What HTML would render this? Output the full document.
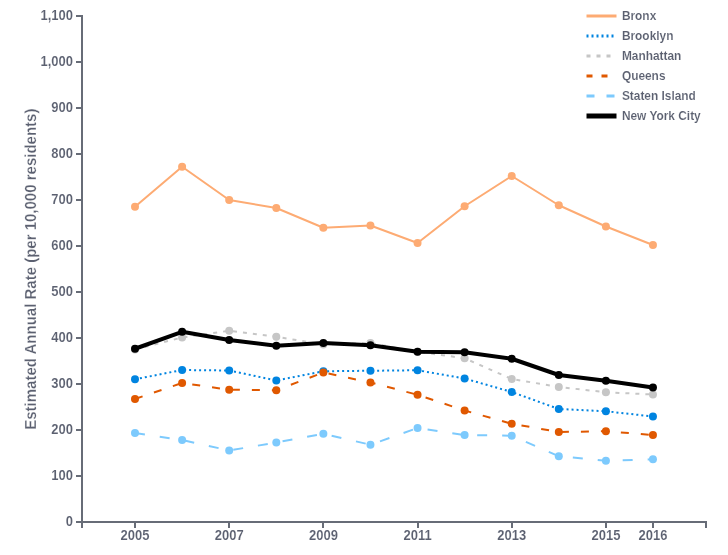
<!DOCTYPE html>
<html><head><meta charset="utf-8"><title>Estimated Annual Rate</title>
<style>html,body{margin:0;padding:0;background:#fff}svg{display:block}text{font-family:"Liberation Sans",Arial,sans-serif;font-weight:bold;fill:#5b6070;stroke:#fff;stroke-width:0.12px;paint-order:fill stroke}</style></head><body>
<svg width="728" height="555" viewBox="0 0 728 555">
<rect width="728" height="555" fill="#fff"/>
<g stroke="#676c77" stroke-width="2" fill="none" shape-rendering="crispEdges">
<path d="M76,16H82V522"/>
<path d="M82,528V522H706V528"/>
<path d="M76,522 H82"/>
<path d="M76,476 H82"/>
<path d="M76,430 H82"/>
<path d="M76,384 H82"/>
<path d="M76,338 H82"/>
<path d="M76,292 H82"/>
<path d="M76,246 H82"/>
<path d="M76,200 H82"/>
<path d="M76,154 H82"/>
<path d="M76,108 H82"/>
<path d="M76,62 H82"/>
<path d="M135,522 V528"/>
<path d="M229,522 V528"/>
<path d="M323,522 V528"/>
<path d="M418,522 V528"/>
<path d="M512,522 V528"/>
<path d="M606,522 V528"/>
<path d="M653,522 V528"/>
</g>
<g font-size="14" text-anchor="end">
<text transform="translate(73,525.8) scale(0.9286,1)">0</text>
<text transform="translate(73,479.8) scale(0.9286,1)">100</text>
<text transform="translate(73,433.8) scale(0.9286,1)">200</text>
<text transform="translate(73,387.8) scale(0.9286,1)">300</text>
<text transform="translate(73,341.8) scale(0.9286,1)">400</text>
<text transform="translate(73,295.8) scale(0.9286,1)">500</text>
<text transform="translate(73,249.8) scale(0.9286,1)">600</text>
<text transform="translate(73,203.8) scale(0.9286,1)">700</text>
<text transform="translate(73,157.8) scale(0.9286,1)">800</text>
<text transform="translate(73,111.8) scale(0.9286,1)">900</text>
<text transform="translate(73,65.8) scale(0.9286,1)">1,000</text>
<text transform="translate(73,19.8) scale(0.9286,1)">1,100</text>
</g>
<g font-size="14" text-anchor="middle">
<text transform="translate(135.0,540) scale(0.9286,1)">2005</text>
<text transform="translate(229.2,540) scale(0.9286,1)">2007</text>
<text transform="translate(323.4,540) scale(0.9286,1)">2009</text>
<text transform="translate(417.6,540) scale(0.9286,1)">2011</text>
<text transform="translate(511.7,540) scale(0.9286,1)">2013</text>
<text transform="translate(605.9,540) scale(0.9286,1)">2015</text>
<text transform="translate(653.0,540) scale(0.9286,1)">2016</text>
</g>
<text font-size="16" style="stroke-width:0.25px" text-rendering="geometricPrecision" text-anchor="middle" transform="translate(36,269.2) rotate(-90) scale(0.9375,1)">Estimated Annual Rate (per 10,000 residents)</text>
<polyline points="135.00,206.75 182.10,166.75 229.20,200.00 276.30,208.00 323.35,227.75 370.45,225.50 417.55,243.00 464.60,206.25 511.70,176.00 558.80,205.25 605.90,226.50 652.95,245.00" fill="none" stroke="#fdab73" stroke-width="2" stroke-linejoin="round"/>
<g fill="#fdab73"><circle cx="135.00" cy="206.75" r="4"/><circle cx="182.10" cy="166.75" r="4"/><circle cx="229.20" cy="200.00" r="4"/><circle cx="276.30" cy="208.00" r="4"/><circle cx="323.35" cy="227.75" r="4"/><circle cx="370.45" cy="225.50" r="4"/><circle cx="417.55" cy="243.00" r="4"/><circle cx="464.60" cy="206.25" r="4"/><circle cx="511.70" cy="176.00" r="4"/><circle cx="558.80" cy="205.25" r="4"/><circle cx="605.90" cy="226.50" r="4"/><circle cx="652.95" cy="245.00" r="4"/></g>
<polyline points="135.00,379.25 182.10,370.00 229.20,370.50 276.30,380.50 323.35,371.25 370.45,370.75 417.55,370.25 464.60,378.50 511.70,392.00 558.80,409.00 605.90,411.25 652.95,416.50" fill="none" stroke="#0084e0" stroke-width="2" stroke-dasharray="2,3" stroke-linejoin="round"/>
<g fill="#0084e0"><circle cx="135.00" cy="379.25" r="4"/><circle cx="182.10" cy="370.00" r="4"/><circle cx="229.20" cy="370.50" r="4"/><circle cx="276.30" cy="380.50" r="4"/><circle cx="323.35" cy="371.25" r="4"/><circle cx="370.45" cy="370.75" r="4"/><circle cx="417.55" cy="370.25" r="4"/><circle cx="464.60" cy="378.50" r="4"/><circle cx="511.70" cy="392.00" r="4"/><circle cx="558.80" cy="409.00" r="4"/><circle cx="605.90" cy="411.25" r="4"/><circle cx="652.95" cy="416.50" r="4"/></g>
<polyline points="135.00,349.40 182.10,337.50 229.20,330.75 276.30,336.75 323.35,344.50 370.45,343.00 417.55,351.75 464.60,358.25 511.70,379.00 558.80,387.00 605.90,392.25 652.95,394.50" fill="none" stroke="#c6c6c6" stroke-width="2" stroke-dasharray="4,6" stroke-linejoin="round"/>
<g fill="#c6c6c6"><circle cx="135.00" cy="349.40" r="4"/><circle cx="182.10" cy="337.50" r="4"/><circle cx="229.20" cy="330.75" r="4"/><circle cx="276.30" cy="336.75" r="4"/><circle cx="323.35" cy="344.50" r="4"/><circle cx="370.45" cy="343.00" r="4"/><circle cx="417.55" cy="351.75" r="4"/><circle cx="464.60" cy="358.25" r="4"/><circle cx="511.70" cy="379.00" r="4"/><circle cx="558.80" cy="387.00" r="4"/><circle cx="605.90" cy="392.25" r="4"/><circle cx="652.95" cy="394.50" r="4"/></g>
<polyline points="135.00,399.00 182.10,383.00 229.20,389.75 276.30,390.25 323.35,372.50 370.45,382.50 417.55,394.75 464.60,410.50 511.70,423.75 558.80,432.00 605.90,431.25 652.95,435.00" fill="none" stroke="#e05800" stroke-width="2" stroke-dasharray="8,12" stroke-linejoin="round"/>
<g fill="#e05800"><circle cx="135.00" cy="399.00" r="4"/><circle cx="182.10" cy="383.00" r="4"/><circle cx="229.20" cy="389.75" r="4"/><circle cx="276.30" cy="390.25" r="4"/><circle cx="323.35" cy="372.50" r="4"/><circle cx="370.45" cy="382.50" r="4"/><circle cx="417.55" cy="394.75" r="4"/><circle cx="464.60" cy="410.50" r="4"/><circle cx="511.70" cy="423.75" r="4"/><circle cx="558.80" cy="432.00" r="4"/><circle cx="605.90" cy="431.25" r="4"/><circle cx="652.95" cy="435.00" r="4"/></g>
<polyline points="135.00,433.00 182.10,440.00 229.20,450.50 276.30,442.50 323.35,433.75 370.45,444.75 417.55,428.00 464.60,435.00 511.70,435.75 558.80,456.25 605.90,460.75 652.95,459.25" fill="none" stroke="#7dcafd" stroke-width="2" stroke-dasharray="10,15" stroke-linejoin="round"/>
<g fill="#7dcafd"><circle cx="135.00" cy="433.00" r="4"/><circle cx="182.10" cy="440.00" r="4"/><circle cx="229.20" cy="450.50" r="4"/><circle cx="276.30" cy="442.50" r="4"/><circle cx="323.35" cy="433.75" r="4"/><circle cx="370.45" cy="444.75" r="4"/><circle cx="417.55" cy="428.00" r="4"/><circle cx="464.60" cy="435.00" r="4"/><circle cx="511.70" cy="435.75" r="4"/><circle cx="558.80" cy="456.25" r="4"/><circle cx="605.90" cy="460.75" r="4"/><circle cx="652.95" cy="459.25" r="4"/></g>
<polyline points="135.00,348.75 182.10,331.80 229.20,340.00 276.30,345.75 323.35,343.00 370.45,345.25 417.55,351.75 464.60,352.25 511.70,358.75 558.80,375.00 605.90,380.75 652.95,387.50" fill="none" stroke="#000" stroke-width="4" stroke-linejoin="round"/>
<g fill="#000"><circle cx="135.00" cy="348.75" r="4"/><circle cx="182.10" cy="331.80" r="4"/><circle cx="229.20" cy="340.00" r="4"/><circle cx="276.30" cy="345.75" r="4"/><circle cx="323.35" cy="343.00" r="4"/><circle cx="370.45" cy="345.25" r="4"/><circle cx="417.55" cy="351.75" r="4"/><circle cx="464.60" cy="352.25" r="4"/><circle cx="511.70" cy="358.75" r="4"/><circle cx="558.80" cy="375.00" r="4"/><circle cx="605.90" cy="380.75" r="4"/><circle cx="652.95" cy="387.50" r="4"/></g>
<g font-size="12.5">
<path d="M586.50,16H616.50" stroke="#fdab73" stroke-width="3" fill="none"/>
<text transform="translate(621.9,20.3) scale(0.952,1)">Bronx</text>
<path d="M586.50,36H588.50M591.50,36H593.50M596.50,36H598.50M601.50,36H603.50M606.50,36H608.50M611.50,36H613.50" stroke="#0084e0" stroke-width="3" fill="none"/>
<text transform="translate(621.9,40.3) scale(0.952,1)">Brooklyn</text>
<path d="M586.50,56H590.50M596.50,56H600.50M606.50,56H610.50" stroke="#c6c6c6" stroke-width="3" fill="none"/>
<text transform="translate(621.9,60.3) scale(0.952,1)">Manhattan</text>
<path d="M586.50,76H592.50M601.50,76H607.50" stroke="#e05800" stroke-width="3" fill="none"/>
<text transform="translate(621.9,80.3) scale(0.952,1)">Queens</text>
<path d="M586.50,96H594.50M606.50,96H614.50" stroke="#7dcafd" stroke-width="3" fill="none"/>
<text transform="translate(621.9,100.3) scale(0.952,1)">Staten Island</text>
<path d="M586.50,116H616.50" stroke="#000" stroke-width="5" fill="none"/>
<text transform="translate(621.9,120.3) scale(0.952,1)">New York City</text>
</g>
</svg></body></html>
